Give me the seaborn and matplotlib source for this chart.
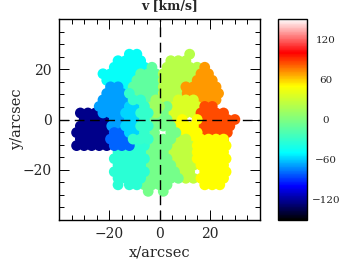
import numpy as np
import pandas as pd
import matplotlib
matplotlib.use("Agg")
import matplotlib.pyplot as plt
from matplotlib.colors import LinearSegmentedColormap, Normalize
from matplotlib.cm import ScalarMappable
from matplotlib.ticker import MultipleLocator
import seaborn as sns

sns.set_style("ticks")
plt.rcParams["font.family"] = ["DejaVu Serif"]
plt.rcParams["axes.unicode_minus"] = True

R = {0: 0, 1: 2.6, 2: 5.2, 3: 7.8, 4: 10.4, 5: 13, 6: 15.6, 7: 18.2, 8: 20.8, 9: 23.4, 10: 26,
     -1: -2.6, -2: -5.2, -3: -7.8, -4: -10.4, -5: -13, -6: -15.6, -7: -18.2, -8: -20.8,
     -9: -23.4, -10: -26, -11: -28.6}

# velocity bins: (velocity km/s, {row index: fibre x offsets in arcsec})
top_cyan = (-48, {10: [-12, -9], 9: [-16.5, -13.5, -10.5, -7.5], 8: [-18, -15, -12, -9, -6],
                  7: [-22.5, -19.5, -16.5, -13.5, -10.5, -7.5], 6: [-21, -18, -15, -12],
                  5: [-13.5, -10.5]})
upper_spring = (-12, {8: [-3], 7: [-7.5, -4.5, -1.5], 6: [-9, -6, -3, 0], 5: [-10.5, -7.5, -4.5, -1.5],
                      4: [-9, -6, -3, 0], 3: [-4.5, -1.5]})
upper_lime = (22, {10: [12], 9: [4.5, 7.5, 10.5], 8: [3, 6, 9, 12, 15], 7: [1.5, 4.5, 7.5, 10.5, 13.5],
                   6: [1.5, 3, 6, 9, 12], 5: [1.5, 4.5, 7.5, 10.5], 4: [1.5, 3, 6, 9], 3: [1.5, 4.5]})
orange = (70, {8: [18], 7: [16.5, 19.5], 6: [15, 18, 21], 5: [10.5, 13.5, 16.5, 19.5, 22.5],
               4: [11, 15, 18, 21, 23.5], 3: [13.5, 16.5, 19.5, 22.5], 2: [15, 18]})
centre_lime = (36, {3: [7.5, 10.5, 13.5], 2: [6, 9, 12, 15], 1: [4.5, 7.5, 10.5, 13.5], 0: [6]})
centre_yellow = (50, {0: [9, 15], -1: [7.5, 10.5, 13.5], -2: [9, 12, 15], -3: [10.5, 13.5]})
orange_red = (85, {2: [18, 21], 1: [16.5, 19.5, 22.5, 25.5], 0: [18, 21, 24, 27, 30],
                   -1: [16.5, 19.5, 22.5, 25.5, 28], -2: [18, 21, 24, 27], -3: [16.5, 19.5, 22.5, 25.5]})
lower_lime = (25, {-3: [7.5, 10.5], -4: [6, 9, 12], -5: [4.5, 7.5, 10.5, 13.5], -6: [6, 9, 12],
                   -7: [7.5, 10.5, 13.5], -8: [9, 12], -9: [10.5, 13.5]})
lower_yellow = (50, {-3: [16.5, 19.5, 22.5, 25.5], -4: [15, 18, 21, 24, 26.5],
                     -5: [15, 16.5, 19.5, 22.5, 25.5], -6: [15, 18, 21, 24, 26.5],
                     -7: [16.5, 19.5, 22.5, 25.5], -8: [18, 21, 24, 26.5],
                     -9: [16.5, 19.5, 22.5, 25.5], -10: [18, 21, 24]})
lower_spring = (-4, {0: [-3, 0, 3], 1: [1.5], 2: [3], -1: [-1.5, 1.5, 4.5], -2: [-2, 4.5, 6.5],
                     -3: [-1.5, 1.5, 4.5], -4: [-3, 0, 3], -5: [-4.5, -1.5, 1.5], -6: [-3, 0, 3],
                     -7: [-4.5, -1.5, 1.5, 4.5], -8: [-6, -3, 0, 3, 6],
                     -9: [-4.5, -1.5, 1.5, 4.5, 7.5], -10: [-6, -3, 0, 3], -11: [-4.5, 1.5]})
centre_green = (12, {3: [-1.5], 2: [-3, 0], 1: [-1.5]})
lower_turquoise = (-33, {-4: [-15, -12, -9, -6], -5: [-16.5, -13.5, -10.5, -7.5],
                         -6: [-18, -15, -12, -9, -6], -7: [-16.5, -13.5, -10.5, -7.5],
                         -8: [-18, -15, -12, -9, -6], -9: [-16.5, -13.5, -10.5, -7.5],
                         -10: [-16.5, -12, -9]})
navy = (-122, {1: [-31.5, -28.5, -25.5], 0: [-30, -27, -24, -21], -1: [-31.5, -28.5, -25.5, -22.5],
               -2: [-33, -30, -27, -24, -21], -3: [-31.5, -28.5, -25.5, -22.5],
               -4: [-33, -30, -27, -24, -21]})
deep_blue = (-80, {-2: [-18, -15, -12], -3: [-19.5, -16.5, -13.5], -4: [-18, -15, -12]})
mid_blue = (-69, {5: [-19.5, -16.5], 4: [-21, -18, -15], 3: [-22.5, -19.5, -16.5, -13.5],
                  2: [-24, -21, -18, -15], 1: [-22.5, -19.5, -16.5], 0: [-18, -15], -1: [-19, -16.5, -13.5]})
mid_cyan = (-58, {2: [-12, -9], 1: [-13.5, -10.5], 0: [-12, -9], -1: [-13.5, -10.5], -2: [-12, -9]})
mid_turquoise = (-30, {4: [-12], 3: [-10.5, -7.5], 2: [-6], 1: [-7.5, -4.5], 0: [-6], -1: [-7.5, -4.5],
                       -2: [-6], -3: [-10.5, -7.5, -4.5]})

regions = [top_cyan, upper_spring, upper_lime, orange, centre_lime, orange_red, centre_yellow,
           lower_lime, lower_yellow, lower_spring, centre_green, lower_turquoise, navy,
           mid_blue, deep_blue, mid_cyan, mid_turquoise]

tick_values = [-20, 0, 20]
tick_labels = ["\u221220", "0", "20"]
bar_values = [-120, -60, 0, 60, 120]
bar_labels = ["\u2212120", "\u221260", "0", "60", "120"]

rows = []
for vel, spec in regions:
    for r, xs in spec.items():
        for x in xs:
            rows.append((x, R[r], vel))
df = pd.DataFrame(rows, columns=["x", "y", "v"])

cmap = LinearSegmentedColormap.from_list("vel", [
    (0.0, (0, 0, 0)), (1 / 6, (0, 0, 1)), (2 / 6, (0, 1, 1)), (3 / 6, (0.5, 1, 0.5)),
    (4 / 6, (1, 1, 0)), (5 / 6, (1, 0, 0)), (1.0, (1, 1, 1))], N=256)
norm = Normalize(-150, 150)

W, H = 343, 260
fig = plt.figure(figsize=(W / 100, H / 100), dpi=100)
ax = fig.add_axes([59 / W, 1 - 220 / H, 201 / W, 201 / H])
sns.scatterplot(data=df, x="x", y="y", hue="v", hue_norm=norm, palette=cmap, s=60,
                linewidth=0, legend=False, ax=ax, zorder=2)
ax.axhline(0, color="k", lw=1, ls=(0, (7, 4)), zorder=3)
ax.axvline(0, color="k", lw=1, ls=(0, (7, 4)), zorder=3)
ax.set_xlim(-40, 40)
ax.set_ylim(-40, 40)
ax.set_xticks(tick_values, tick_labels)
ax.set_yticks(tick_values, tick_labels)
ax.xaxis.set_minor_locator(MultipleLocator(5))
ax.yaxis.set_minor_locator(MultipleLocator(5))
ax.tick_params(which="major", direction="in", length=7, width=0.7, top=True, right=True,
               labelsize=10, pad=5, color="k")
ax.tick_params(which="minor", direction="in", length=3.5, width=0.7, top=True, right=True, color="k")
for s in ax.spines.values():
    s.set_linewidth(1)
    s.set_color("k")
ax.set_xlabel("x/arcsec", fontsize=10.5, labelpad=3)
ax.set_ylabel("y/arcsec", fontsize=10.5, labelpad=-1)
ax.set_title("v [km/s]", fontsize=9, fontweight="bold", pad=7, x=0.55)

cax = fig.add_axes([277.5 / W, 1 - 220 / H, 29 / W, 201 / H])
cb = fig.colorbar(ScalarMappable(norm=norm, cmap=cmap), cax=cax)
cb.set_ticks(bar_values)
cb.set_ticklabels(bar_labels)
cb.ax.tick_params(length=0, labelsize=7.5, pad=14)
for t in cb.ax.get_yticklabels():
    t.set_ha("center")
cb.outline.set_linewidth(1)
cb.outline.set_edgecolor("k")

fig.savefig("out.png", dpi=100)
